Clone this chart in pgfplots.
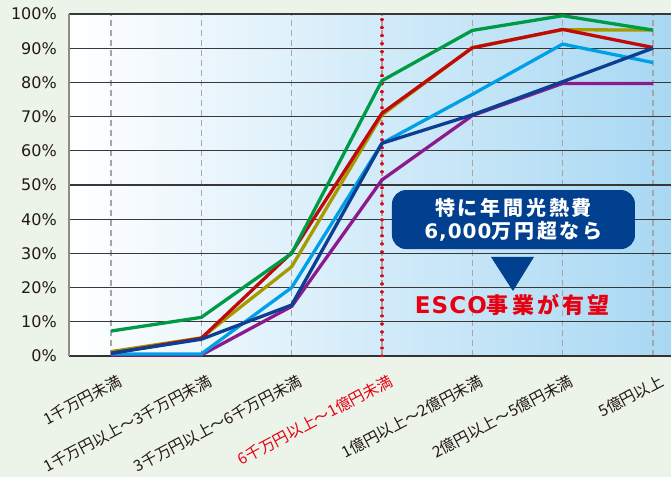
\documentclass[border=0pt]{standalone}
\usepackage{fontspec}
\setmainfont{Noto Sans CJK JP}
\newfontfamily\dejavu{DejaVu Sans}
\newfontfamily\annot[LetterSpace=14]{Noto Sans CJK JP}
\newfontfamily\annotlat[LetterSpace=5]{DejaVu Sans}
\usepackage{pgfplots}
\pgfplotsset{compat=1.18}
\definecolor{bggreen}{RGB}{236,244,234}
\definecolor{bgblue}{RGB}{168,216,243}
\definecolor{textdark}{RGB}{35,24,21}
\definecolor{labelred}{RGB}{230,0,18}
\definecolor{boxblue}{RGB}{0,64,143}
\definecolor{cgreen}{RGB}{0,154,68}
\definecolor{colive}{RGB}{165,154,0}
\definecolor{cred}{RGB}{192,10,10}
\definecolor{clblue}{RGB}{0,160,233}
\definecolor{cdblue}{RGB}{12,62,145}
\definecolor{cpurple}{RGB}{139,26,140}
\begin{document}
\begin{tikzpicture}[x=1pt,y=1pt]
\path[use as bounding box] (0,0) rectangle (671,477);
\fill[bggreen] (0,0) rectangle (671,477);
\begin{axis}[
  at={(69pt,121pt)}, anchor=south west,
  scale only axis, width=602pt, height=342pt,
  xmin=-0.465, xmax=6.2, ymin=0, ymax=100,
  axis lines*=left,
  x axis line style={draw=black!80, line width=1.5pt, -},
  y axis line style={draw=black!45, line width=1.5pt, -},
  axis background/.style={shade, left color=white, right color=bgblue},
  xtick={0,1,2,3,4,5,6},
  xticklabels={1千万円未満,1千万円以上〜3千万円未満,3千万円以上〜6千万円未満,\textcolor{labelred}{6千万円以上〜1億円未満},1億円以上〜2億円未満,2億円以上〜5億円未満,5億円以上},
  ytick={0,10,...,100},
  yticklabels={0\%,10\%,20\%,30\%,40\%,50\%,60\%,70\%,80\%,90\%,100\%},
  major tick length=0pt,
  xmajorgrids, ymajorgrids,
  x grid style={draw=black!35, line width=1.2pt, dash pattern=on 6pt off 4pt},
  y grid style={draw=black!78, line width=1.1pt},
  xticklabel style={xshift=6pt, yshift=-17pt, rotate=28, anchor=north east, inner sep=0pt, text=textdark, font=\fontsize{15.5}{15.5}\selectfont},
  yticklabel style={inner sep=0pt, xshift=-12pt, text=textdark, font=\dejavu\fontsize{16}{16}\selectfont},
  every axis plot/.append style={line width=3.3pt, line join=round, mark=none},
]
\draw[labelred, line width=3.2pt, line cap=round, dash pattern=on 0.01pt off 8pt] (axis cs:3,0) -- (axis cs:3,100);
\addplot[cpurple] coordinates {(0,0.3) (1,0.3) (2,14.5) (3,51.5) (4,70.3) (5,79.7) (6,79.7)};
\addplot[clblue] coordinates {(0,0.6) (1,0.6) (2,20.0) (3,62.2) (4,76.5) (5,91.2) (6,85.8)};
\addplot[colive] coordinates {(0,1.3) (1,5.3) (2,26.1) (3,70.5) (4,90.2) (5,95.4) (6,95.3)};
\addplot[cred] coordinates {(0,0.8) (1,5.2) (2,30.2) (3,71.0) (4,90.1) (5,95.5) (6,90.2)};
\addplot[cgreen] coordinates {(0,7.3) (1,11.3) (2,30.0) (3,80.5) (4,95.2) (5,99.5) (6,95.3)};
\addplot[cdblue] coordinates {(0,0.8) (1,4.9) (2,14.9) (3,62.2) (4,70.5) (5,80.2) (6,90.0)};
\node[fill=boxblue, rounded corners=14pt, minimum width=243pt, minimum height=59pt, text=white, font=\bfseries\fontsize{20}{23}\selectfont, align=center, inner sep=0pt] at (axis cs:4.456,39.9) {{\annot 特に年間光熱費}\\{\annotlat 6,000}{\annot 万円超なら}};
\fill[boxblue] (axis cs:4.207,28.95) -- (axis cs:4.683,28.95) -- (axis cs:4.450,19.0) -- cycle;
\node[text=labelred, font=\bfseries\fontsize{22}{22}\selectfont, inner sep=0pt] at (axis cs:4.44,14.9) {{\annotlat\fontsize{23}{23}\selectfont ESCO}{\annot 事業が有望}};
\end{axis}
\end{tikzpicture}
\end{document}
